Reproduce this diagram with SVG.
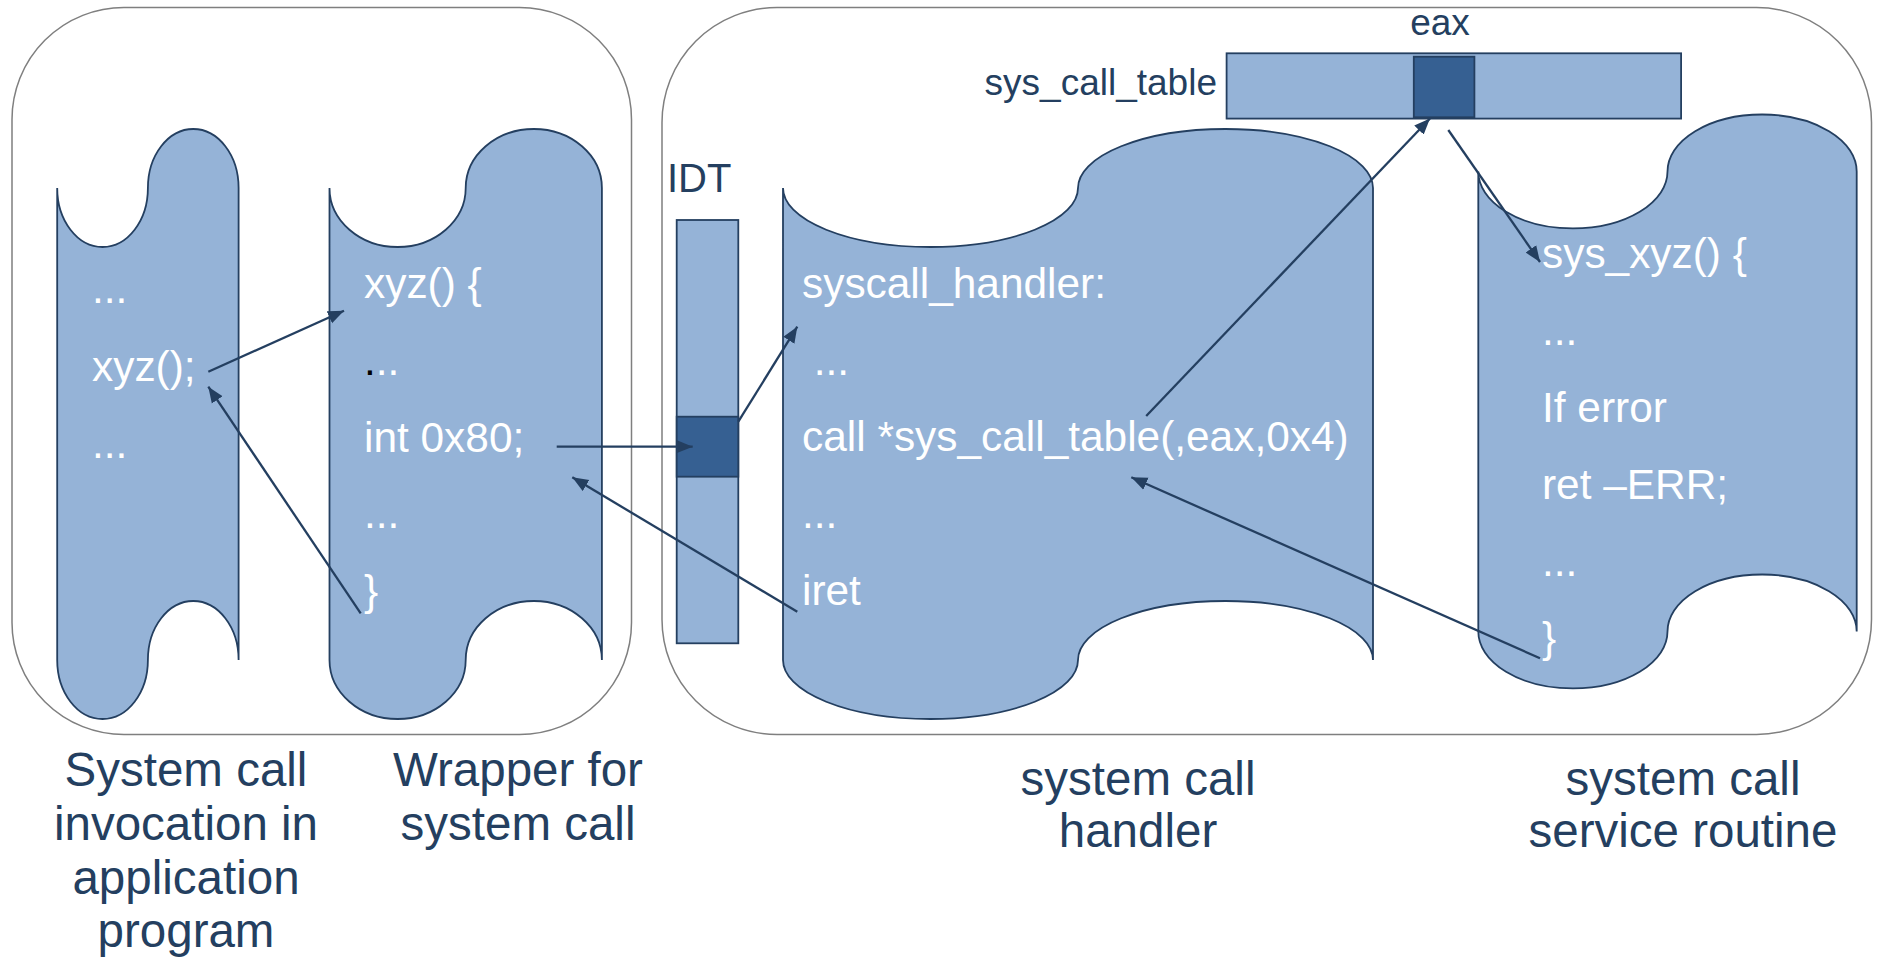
<svg xmlns="http://www.w3.org/2000/svg" width="1881" height="958" viewBox="0 0 1881 958">
  <style>
    .frame { fill: #ffffff; stroke: #7f7f7f; stroke-width: 1.5; }
    .scroll { fill: #95b3d7; stroke: #243f60; stroke-width: 1.8; }
    .cell { fill: #95b3d7; stroke: #243f60; stroke-width: 1.8; }
    .cell-sel { fill: #366092; stroke: #243f60; stroke-width: 1.8; }
    .code { font-family: "Liberation Sans", Arial, sans-serif; font-size: 42.4px; fill: #ffffff; }
    .label { font-family: "Liberation Sans", Arial, sans-serif; font-size: 47.5px; fill: #243f60; text-anchor: middle; }
    .tag { font-family: "Liberation Sans", Arial, sans-serif; font-size: 37px; fill: #243f60; }
    .conn { fill: none; stroke: #243f60; stroke-width: 2.3; }
  </style>
  <defs>
    <marker id="arrow" markerUnits="userSpaceOnUse" markerWidth="17" markerHeight="14" refX="16" refY="7" orient="auto">
      <path d="M0,0.5 L16,7 L0,13.5 z" fill="#243f60"/>
    </marker>
  </defs>

  <rect width="1881" height="958" fill="#ffffff"/>

  <!-- user space / kernel space frames -->
  <g id="user-frame">
    <rect class="frame" x="12" y="7.5" width="619.5" height="727" rx="112" ry="112"/>
  </g>
  <g id="kernel-frame">
    <rect class="frame" x="662" y="7.5" width="1209.5" height="727" rx="115" ry="115"/>
  </g>

  <!-- application program -->
  <g id="app">
    <path class="scroll" d="M57.2,188 A45.35,59 0 0 0 147.9,188 A45.35,59 0 0 1 238.6,188 L238.6,660 A45.35,59 0 0 0 147.9,660 A45.35,59 0 0 1 57.2,660 Z"/>
    <text class="code" x="92" y="303">...</text>
    <text class="code" x="92" y="381">xyz();</text>
    <text class="code" x="92" y="458">...</text>
  </g>

  <!-- wrapper routine -->
  <g id="wrapper">
    <path class="scroll" d="M329.5,188 A68.1,59 0 0 0 465.7,188 A68.1,59 0 0 1 601.9,188 L601.9,660 A68.1,59 0 0 0 465.7,660 A68.1,59 0 0 1 329.5,660 Z"/>
    <text class="code" x="364" y="298">xyz() {</text>
    <text class="code" x="364" y="375"><tspan fill="#000000">.</tspan>..</text>
    <text class="code" x="364" y="452">int 0x80;</text>
    <text class="code" x="364" y="528">...</text>
    <text class="code" x="364" y="605">}</text>
  </g>

  <!-- interrupt descriptor table -->
  <g id="idt">
    <text class="tag" x="667" y="192" style="font-size:40px">IDT</text>
    <rect class="cell" x="676.7" y="220" width="61.6" height="423.3"/>
    <rect class="cell-sel" x="676.7" y="416.7" width="61.6" height="60"/>
  </g>

  <!-- system call handler -->
  <g id="handler">
    <path class="scroll" d="M783,188 A147.5,59 0 0 0 1078,188 A147.5,59 0 0 1 1373,188 L1373,660 A147.5,59 0 0 0 1078,660 A147.5,59 0 0 1 783,660 Z"/>
    <text class="code" x="802" y="298">syscall_handler:</text>
    <text class="code" x="802" y="375" xml:space="preserve"> ...</text>
    <text class="code" x="802" y="451">call *sys_call_table(,eax,0x4)</text>
    <text class="code" x="802" y="528">...</text>
    <text class="code" x="802" y="605">iret</text>
  </g>

  <!-- system call table -->
  <g id="sys-call-table">
    <text class="tag" x="1217" y="95" text-anchor="end">sys_call_table</text>
    <text class="tag" x="1440" y="35" text-anchor="middle">eax</text>
    <rect class="cell" x="1226.6" y="53.3" width="454.5" height="65.3"/>
    <rect class="cell-sel" x="1413.8" y="56.7" width="60.6" height="60.6"/>
  </g>

  <!-- service routine -->
  <g id="service">
    <path class="scroll" d="M1478.3,171.5 A94.6,57 0 0 0 1667.5,171.5 A94.6,57 0 0 1 1856.7,171.5 L1856.7,631.5 A94.6,57 0 0 0 1667.5,631.5 A94.6,57 0 0 1 1478.3,631.5 Z"/>
    <text class="code" x="1542" y="268">sys_xyz() {</text>
    <text class="code" x="1542" y="345">...</text>
    <text class="code" x="1542" y="422">If error</text>
    <text class="code" x="1542" y="499">ret –ERR;</text>
    <text class="code" x="1542" y="576">...</text>
    <text class="code" x="1542" y="652">}</text>
  </g>

  <!-- captions -->
  <g id="captions">
    <text class="label" x="186" y="786">System call</text>
    <text class="label" x="186" y="840">invocation in</text>
    <text class="label" x="186" y="894">application</text>
    <text class="label" x="186" y="947">program</text>
    <text class="label" x="518" y="786">Wrapper for</text>
    <text class="label" x="518" y="840">system call</text>
    <text class="label" x="1138" y="795">system call</text>
    <text class="label" x="1138" y="847">handler</text>
    <text class="label" x="1683" y="795">system call</text>
    <text class="label" x="1683" y="847">service routine</text>
  </g>

  <!-- control flow -->
  <g id="connectors">
    <path class="conn" d="M208.3,371.7 L344,310.7" marker-end="url(#arrow)"/>
    <path class="conn" d="M360.7,613.3 L208.3,386.7" marker-end="url(#arrow)"/>
    <path class="conn" d="M556.7,446.7 L692.7,446.7" marker-end="url(#arrow)"/>
    <path class="conn" d="M738.3,421.7 L797.3,326.7" marker-end="url(#arrow)"/>
    <path class="conn" d="M797.3,611.7 L572.3,477.3" marker-end="url(#arrow)"/>
    <path class="conn" d="M1146.2,416 L1430,118.5" marker-end="url(#arrow)"/>
    <path class="conn" d="M1448.3,130 L1540,262" marker-end="url(#arrow)"/>
    <path class="conn" d="M1540,658.3 L1131.3,477.3" marker-end="url(#arrow)"/>
  </g>
</svg>
